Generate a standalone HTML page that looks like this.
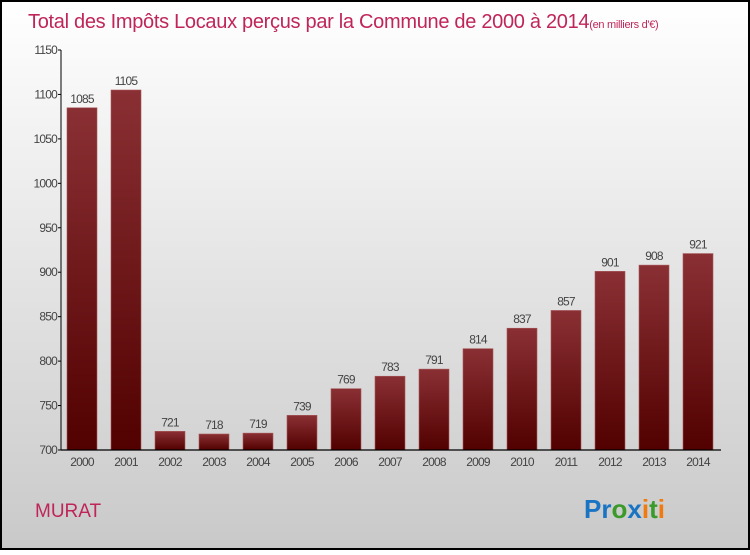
<!DOCTYPE html>
<html><head><meta charset="utf-8"><style>
html,body{margin:0;padding:0;}
body{width:750px;height:550px;overflow:hidden;font-family:"Liberation Sans",sans-serif;}
</style></head><body>
<svg width="750" height="550" viewBox="0 0 750 550">
<defs>
<linearGradient id="bg" x1="0" y1="0" x2="0" y2="1"><stop offset="0" stop-color="#ffffff"/><stop offset="1" stop-color="#c9c9c9"/></linearGradient>
<linearGradient id="bar" x1="0" y1="0" x2="0" y2="1"><stop offset="0" stop-color="#8a3034"/><stop offset="1" stop-color="#520000"/></linearGradient>
</defs>
<rect x="1" y="1" width="748" height="548" fill="url(#bg)" stroke="#000" stroke-width="2"/>
<text x="28" y="28" font-size="20" fill="#c0255a" letter-spacing="-0.3">Total des Impôts Locaux perçus par la Commune de 2000 à 2014<tspan font-size="11">(en milliers d'€)</tspan></text>
<g id="yaxis"></g><g id="bars"></g><g id="xaxis"></g>
<text x="35" y="517" font-size="19" fill="#c0255a">MURAT</text>
<text x="584" y="518" font-size="26" font-weight="bold"><tspan fill="#1a74c4">Pr</tspan><tspan fill="#3a9a2a">o</tspan><tspan fill="#1a74c4">x</tspan><tspan fill="#f07a10">i</tspan><tspan fill="#3a9a2a">t</tspan><tspan fill="#f07a10">i</tspan></text>
</svg>
<script>
const years=["2000","2001","2002","2003","2004","2005","2006","2007","2008","2009","2010","2011","2012","2013","2014"];
const values=[1085,1105,721,718,719,739,769,783,791,814,837,857,901,908,921];
const yTicks=[700,750,800,850,900,950,1000,1050,1100,1150];
const NS="http://www.w3.org/2000/svg";
const y0=450,y1=50,vMin=700,vMax=1150;
function y(v){return y0-(v-vMin)*(y0-y1)/(vMax-vMin);}
function x(i){return 82+i*44;}
function mk(tag,attrs,parent,txt){const e=document.createElementNS(NS,tag);for(const k in attrs)e.setAttribute(k,attrs[k]);if(txt!==undefined)e.textContent=txt;document.getElementById(parent).appendChild(e);return e;}
const yl=mk("line",{x1:61,y1:y1,x2:61,y2:y0,stroke:"#000","stroke-width":1},"yaxis");


yTicks.forEach(t=>{
 const tk=mk("line",{x1:58,y1:y(t),x2:61,y2:y(t),stroke:"#000"},"yaxis");
 
 
 const lb=mk("text",{x:57,y:y(t)+4,"font-size":12,fill:"#444","text-anchor":"end","letter-spacing":"-0.8"},"yaxis",t);
 
 
});
values.forEach((v,i)=>{
 const b=mk("rect",{x:x(i)-15,y:y(v),width:30,height:y0-y(v),fill:"url(#bar)",stroke:"#a85a5c","stroke-width":0.6},"bars");
 
 
 const l=mk("text",{x:x(i),y:y(v)-5,"font-size":12,fill:"#444","text-anchor":"middle","letter-spacing":"-0.8"},"bars",v);
 
 
 const xl=mk("text",{x:x(i),y:466,"font-size":12,fill:"#444","text-anchor":"middle","letter-spacing":"-0.8"},"xaxis",years[i]);
 
 
});
const xa=mk("line",{x1:61,y1:y0,x2:721,y2:y0,stroke:"#000","stroke-width":1.2},"xaxis");


</script>
</body></html>
